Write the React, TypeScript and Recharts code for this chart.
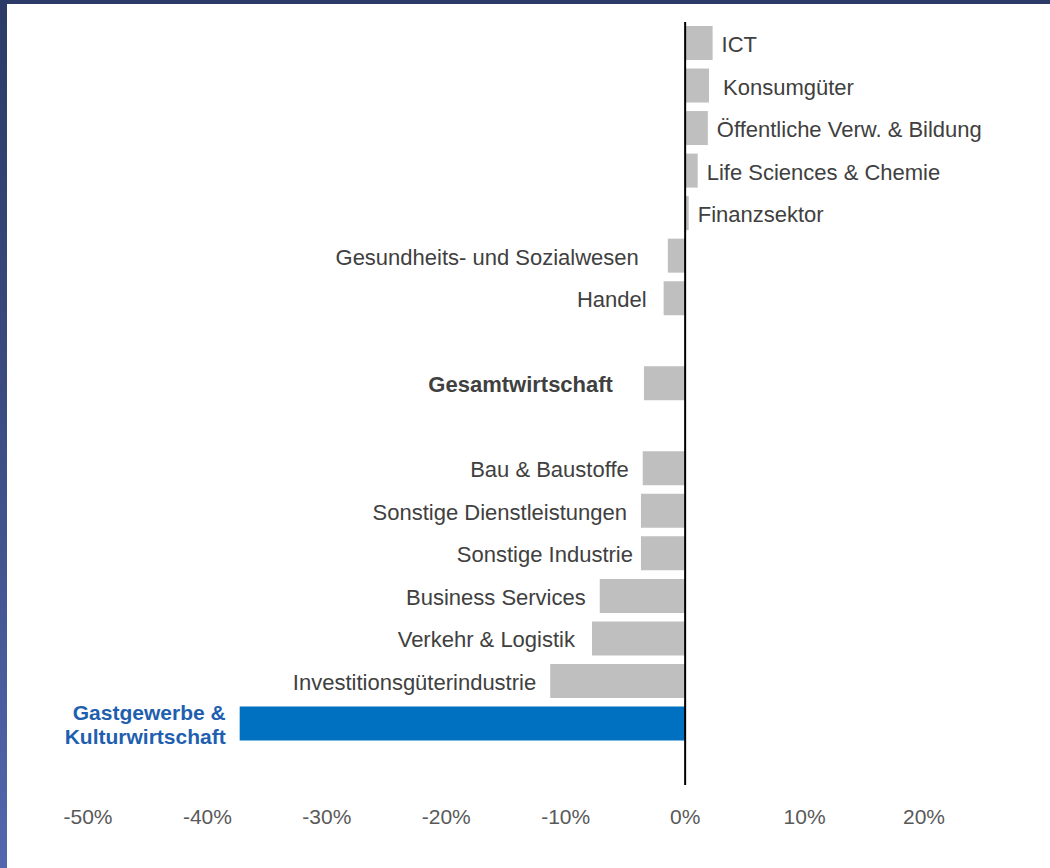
import React from 'react';
import { BarChart, Bar, XAxis, YAxis, Cell, LabelList, ReferenceLine } from 'recharts';

// Veränderung je Branche in % (leere Einträge = Abstandszeilen)
const sectors = [
    'ICT',
    'Konsumgüter',
    'Öffentliche Verw. & Bildung',
    'Life Sciences & Chemie',
    'Finanzsektor',
    'Gesundheits- und Sozialwesen',
    'Handel',
    '',
    'Gesamtwirtschaft',
    '',
    'Bau & Baustoffe',
    'Sonstige Dienstleistungen',
    'Sonstige Industrie',
    'Business Services',
    'Verkehr & Logistik',
    'Investitionsgüterindustrie',
    'Gastgewerbe & Kulturwirtschaft',
];

const changes: (number | null)[] = [
    2.3, 2.0, 1.9, 1.05, 0.3, -1.45, -1.8, null, -3.45, null,
    -3.55, -3.7, -3.7, -7.15, -7.8, -11.3, -37.3,
];

const xTicks = [-50, -40, -30, -20, -10, 0, 10, 20];

const TOTAL = 'Gesamtwirtschaft';
const HIGHLIGHT = 'Gastgewerbe & Kulturwirtschaft';

const GREY = '#BFBFBF';
const BLUE = '#0070C0';
const TEXT = '#404040';
const FONT = '"Liberation Sans", Arial, sans-serif';

// label spacing from the bar end, tweaked like the original
const labelGap: Record<string, number> = {
    'Konsumgüter': 14,
    'Gesundheits- und Sozialwesen': 29,
    'Handel': 17,
    'Gesamtwirtschaft': 31,
    'Sonstige Industrie': 8,
    'Verkehr & Logistik': 17,
};

const data = sectors.map((name, i) => ({ key: `row${i}`, name, value: changes[i] }));

const BarLabel = (props: any) => {
    const { x, y, width, height, value } = props;
    const row = data.find((d) => d.name === value);
    if (!row || row.value == null || !row.name) return null;
    const neg = row.value < 0;
    const end = neg ? Math.min(x, x + width) : Math.max(x, x + width);
    const gap = labelGap[row.name] ?? (neg ? 14 : 9);
    const tx = neg ? end - gap : end + gap;
    const cy = y + height / 2;

    if (row.name === HIGHLIGHT) {
        const [first, second] = row.name.split(' & ');
        return (
            <text x={tx} y={cy} textAnchor="end" fill="#1F5FAF" fontSize={21} fontWeight="bold" fontFamily={FONT}>
                <tspan x={tx} dy={-3}>{`${first} &`}</tspan>
                <tspan x={tx} dy={24}>{second}</tspan>
            </text>
        );
    }

    return (
        <text
            x={tx}
            y={cy}
            dy={9}
            textAnchor={neg ? 'end' : 'start'}
            fill={TEXT}
            fontSize={22}
            fontWeight={row.name === TOTAL ? 'bold' : 'normal'}
            fontFamily={FONT}
        >
            {row.name}
        </text>
    );
};

export default function App() {
    return (
        <div
            style={{
                position: 'fixed',
                top: 0,
                left: 0,
                width: 1050,
                height: 868,
                background: 'linear-gradient(180deg, #2B3A66 0%, #3A4B80 45%, #5267AE 100%)',
            }}
        >
            <div style={{ position: 'absolute', top: 4, left: 7, width: 1043, height: 864, background: '#FFFFFF' }}>
                <BarChart
                    width={1043}
                    height={864}
                    data={data}
                    layout="vertical"
                    margin={{ top: 18, right: 126, bottom: 33, left: 81 }}
                >
                    <XAxis
                        type="number"
                        domain={[-50, 20]}
                        ticks={xTicks}
                        allowDataOverflow
                        tickFormatter={(v) => `${v}%`}
                        tick={{ fontSize: 21, fill: '#595959', fontFamily: FONT }}
                        axisLine={false}
                        tickLine={false}
                        height={50}
                        dy={16}
                    />
                    <YAxis type="category" dataKey="key" hide padding={{ top: 0, bottom: 40 }} />
                    <Bar dataKey="value" barSize={34} isAnimationActive={false}>
                        {data.map((d) => (
                            <Cell key={d.key} fill={d.name === HIGHLIGHT ? BLUE : GREY} />
                        ))}
                        <LabelList dataKey="name" content={BarLabel} />
                    </Bar>
                    <ReferenceLine x={0} stroke="#000000" strokeWidth={2} ifOverflow="extendDomain" />
                </BarChart>
            </div>
        </div>
    );
}
